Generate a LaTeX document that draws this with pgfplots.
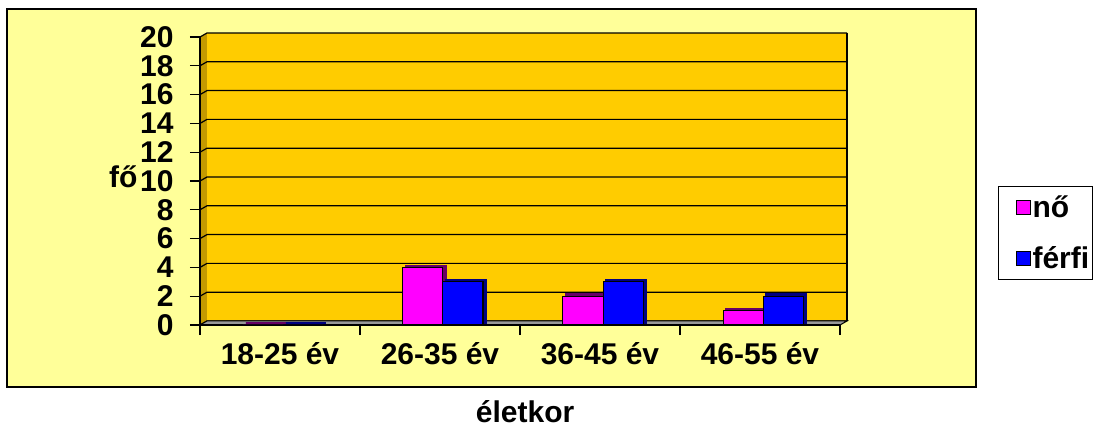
\documentclass[border=0pt]{standalone}
\usepackage{pgfplots}
\pgfplotsset{compat=1.18}
\usepackage{fontspec}
\setmainfont{Liberation Sans}

\definecolor{bgyellow}{HTML}{FFFF99}
\definecolor{wallgold}{HTML}{FFCC00}
\definecolor{sidegold}{HTML}{C49A00}
\definecolor{floorgrey}{HTML}{999999}
\definecolor{nocol}{HTML}{FF00FF}
\definecolor{ferficol}{HTML}{0000FF}
\definecolor{nodark}{HTML}{660066}
\definecolor{ferfidark}{HTML}{000080}

\newcommand{\bigfont}{\bfseries\fontsize{30}{36}\selectfont}

\begin{document}
\begin{tikzpicture}[x=1pt,y=1pt]
% page frame (1101 x 428)
\path[use as bounding box] (-200,-103) rectangle (901,325);
\fill[white] (-200,-103) rectangle (901,325);
\draw[fill=bgyellow, line width=1.5pt] (-193,-62) rectangle (776,316);
% 3D walls
\fill[wallgold] (7,4) rectangle (647,292);
\fill[sidegold] (0,0) -- (7,4) -- (7,292) -- (0,288) -- cycle;
\foreach \k in {0,...,10}
  \draw[line width=1.2pt] (0,28.8*\k) -- (7,4+28.8*\k) -- (647,4+28.8*\k);
\draw[line width=1.2pt] (647,4) -- (647,292);
\draw[line width=1pt, fill=floorgrey] (0,0) -- (7,4) -- (647,4) -- (640,0) -- cycle;

\begin{axis}[
  at={(0,0)}, anchor=south west,
  scale only axis, width=640pt, height=288pt,
  xmin=-0.5, xmax=3.5, ymin=0, ymax=20,
  clip=false,
  axis x line*=bottom, axis y line*=left,
  axis line style={-, line width=1.2pt, black},
  tick align=outside, major tick length=10pt,
  tick style={line width=1.2pt, black},
  xtick={-0.5,0.5,1.5,2.5,3.5},
  x tick label as interval,
  xticklabels={18-25 év,26-35 év,36-45 év,46-55 év},
  ytick={0,2,...,20},
  /pgf/number format/assume math mode=true,
  ticklabel style={font=\bigfont},
  yticklabel style={xshift=-13pt},
  xticklabel style={yshift=-4pt},
  ylabel={fő},
  every axis y label/.style={at={(axis description cs:-0.12,0.514)}, anchor=center, font=\bigfont},
  xlabel={életkor},
  every axis x label/.style={at={(axis description cs:0.508,-0.30)}, anchor=center, font=\bigfont},
  bar width=40pt,
  legend style={draw=black, fill=white, line width=1pt,
    at={(axis description cs:1.247,0.483)}, anchor=north west,
    font=\bigfont, inner xsep=2pt, inner ysep=7pt,
    nodes={inner xsep=1pt, inner ysep=2pt},
    row sep=24pt, legend cell align=left,
    /tikz/every even column/.append style={column sep=0pt}},
  legend image code/.code={\path (0pt,0pt) (30pt,0pt);
    \draw[#1, draw=black, line width=1pt] (15pt,-7pt) rectangle (29pt,7pt);},
]
% 3D depth of the bars
\addplot[ybar, bar shift=-17pt, fill=nodark, draw=nodark, line width=1.5pt, xshift=3pt, yshift=2pt, forget plot]
  coordinates {(0,0) (1,4) (2,2) (3,1)};
\addplot[ybar, bar shift=-17pt, fill=nocol, draw=black, line width=1pt]
  coordinates {(0,0) (1,4) (2,2) (3,1)};
\addplot[ybar, bar shift=23pt, fill=ferfidark, draw=ferfidark, line width=1.5pt, xshift=3pt, yshift=2pt, forget plot]
  coordinates {(0,0) (1,3) (2,3) (3,2)};
\addplot[ybar, bar shift=23pt, fill=ferficol, draw=black, line width=1pt]
  coordinates {(0,0) (1,3) (2,3) (3,2)};
\legend{nő, férfi}
\end{axis}
\end{tikzpicture}
\end{document}
